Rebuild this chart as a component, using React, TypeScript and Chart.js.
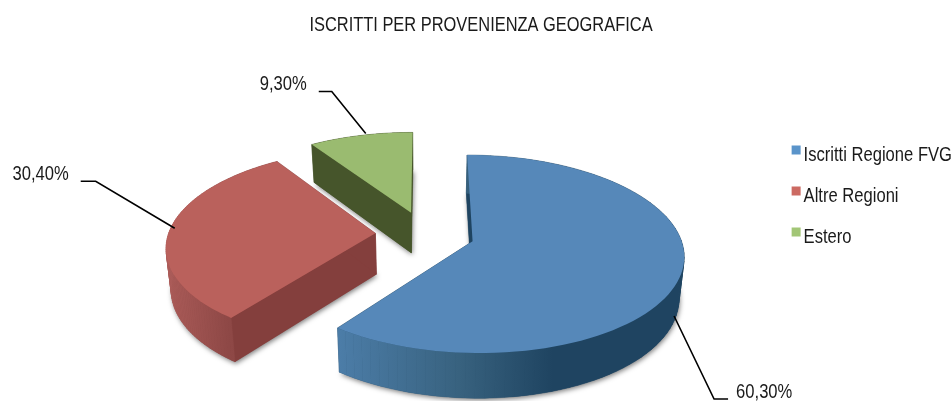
import React, { useEffect, useRef } from "react";
import { Chart, registerables } from "chart.js";

Chart.register(...registerables);

const titleText = "ISCRITTI PER PROVENIENZA GEOGRAFICA";
const categories = ["Iscritti Regione FVG", "Altre Regioni", "Estero"];
const shares = [60.3, 30.4, 9.3];

const topColors = ["#5688b9", "#ba615c", "#9abb70"];
const legendColors = ["#5a94ca", "#cc6a62", "#a2c676"];
const sideColors = ["#1f4461", "#843f3d", "#46552b"];
const wallStops: [number, string][][] = [
  [[0, "#4c7da8"], [0.35, "#38627f"], [0.62, "#1f4461"], [1, "#1f4461"]],
  [[0, "#ac5c59"], [0.3, "#8e4846"], [1, "#843f3d"]],
  [[0, "#46552b"], [1, "#46552b"]],
];

const FONT = '"Liberation Sans", sans-serif';
const TEXT_SQUEEZE = 0.79; // no condensed face is installed, so text is narrowed horizontally

// Projection of the tilted, exploded disc on the canvas
const view = { cx: 425, cy: 234, rx: 207, ry: 95.5, persp: 0.127, depth: 41, floor: 0.98, explode: 0.24 };

// Leader line of each label: rim tweak, elbow relative to the rim, tail length, gap to the text
const leaders = [
  { ax: -2, ay: 0, ex: 40, ey: 83, tail: 14, gap: 8, low: true },
  { ax: 5, ay: -2, ex: -79, ey: -47, tail: -15, gap: -12, low: false },
  { ax: 5, ay: -2, ex: -34, ey: -42, tail: -13, gap: -12, low: false },
];

function project(U: number, V: number, low = false) {
  const d = 1 + view.persp * V;
  let x = view.cx + (view.rx * U) / d;
  let y = view.cy - (view.ry * V) / d;
  if (low) {
    x = view.cx + (x - view.cx) * view.floor;
    y = view.cy + (y - view.cy) * view.floor + view.depth / d;
  }
  return { x, y };
}

function narrowText(ctx: any) {
  const fill = ctx.fillText.bind(ctx);
  const measure = ctx.measureText.bind(ctx);
  ctx.fillText = (t: string, x: number, y: number) => {
    ctx.save();
    ctx.translate(x, y);
    ctx.scale(TEXT_SQUEEZE, 1);
    fill(t, 0, 0);
    ctx.restore();
  };
  ctx.measureText = (t: string) => {
    const m = measure(t);
    return {
      width: m.width * TEXT_SQUEEZE,
      actualBoundingBoxAscent: m.actualBoundingBoxAscent,
      actualBoundingBoxDescent: m.actualBoundingBoxDescent,
      actualBoundingBoxLeft: m.actualBoundingBoxLeft * TEXT_SQUEEZE,
      actualBoundingBoxRight: m.actualBoundingBoxRight * TEXT_SQUEEZE,
    };
  };
}

const pie3d = {
  id: "pie3d",
  beforeDatasetDraw(chart: any) {
    const ctx: CanvasRenderingContext2D = chart.ctx;
    const arcs = chart.getDatasetMeta(0).data;
    const slices = arcs.map((a: any) => {
      const t0 = a.startAngle + Math.PI / 2;
      const t1 = a.endAngle + Math.PI / 2;
      const mid = (t0 + t1) / 2;
      const U0 = Math.sin(mid) * view.explode;
      const V0 = Math.cos(mid) * view.explode;
      const n = 90;
      const rim: [number, number][] = [];
      for (let i = 0; i <= n; i++) {
        const t = t0 + ((t1 - t0) * i) / n;
        rim.push([U0 + Math.sin(t), V0 + Math.cos(t)]);
      }
      return { mid, U0, V0, rim };
    });
    const order = [2, 1, 0];
    const path = (pts: { x: number; y: number }[]) => {
      ctx.beginPath();
      pts.forEach((p, i) => (i ? ctx.lineTo(p.x, p.y) : ctx.moveTo(p.x, p.y)));
      ctx.closePath();
    };
    order.forEach((i) => {
      const s = slices[i];
      const topPts = [project(s.U0, s.V0), ...s.rim.map((r: number[]) => project(r[0], r[1]))];
      const lowPts = [project(s.U0, s.V0, true), ...s.rim.map((r: number[]) => project(r[0], r[1], true))];
      ctx.save();
      ctx.shadowColor = "rgba(0,0,0,0.5)";
      ctx.shadowBlur = 5;
      ctx.shadowOffsetX = 1;
      ctx.shadowOffsetY = 2;
      ctx.fillStyle = sideColors[i];
      path(lowPts);
      ctx.fill();
      ctx.restore();

      ctx.fillStyle = sideColors[i];
      ctx.strokeStyle = sideColors[i];
      ctx.lineWidth = 0.5;
      const last = topPts.length - 1;
      [1, last].forEach((k) => {
        path([topPts[0], topPts[k], lowPts[k], lowPts[0]]);
        ctx.fill();
        ctx.stroke();
      });
      const xs = topPts.map((p) => p.x);
      const g = ctx.createLinearGradient(Math.min(...xs), 0, Math.max(...xs), 0);
      wallStops[i].forEach(([o, c]) => g.addColorStop(o, c));
      ctx.fillStyle = g;
      ctx.strokeStyle = g;
      for (let k = 1; k < last; k++) {
        path([topPts[k], topPts[k + 1], lowPts[k + 1], lowPts[k]]);
        ctx.fill();
        ctx.stroke();
      }
      ctx.fillStyle = topColors[i];
      path(topPts);
      ctx.fill();
    });

    // Value labels with leader lines
    ctx.save();
    ctx.font = `21px ${FONT}`;
    ctx.fillStyle = "#1a1a1a";
    ctx.strokeStyle = "#000000";
    ctx.lineWidth = 1.6;
    ctx.textBaseline = "middle";
    slices.forEach((s: any, i: number) => {
      const l = leaders[i];
      const p = project(s.U0 + Math.sin(s.mid), s.V0 + Math.cos(s.mid), l.low);
      const ax = p.x + l.ax;
      const ay = p.y + l.ay;
      const ex = ax + l.ex;
      const ey = ay + l.ey;
      const tx = ex + l.tail;
      ctx.beginPath();
      ctx.moveTo(ax, ay);
      ctx.lineTo(ex, ey);
      ctx.lineTo(tx, ey);
      ctx.stroke();
      ctx.textAlign = l.tail > 0 ? "left" : "right";
      const label = shares[i].toFixed(2).replace(".", ",") + "%";
      ctx.fillText(label, tx + l.gap, ey - 7);
    });
    ctx.restore();
    return false;
  },
};

function legendSwatch(color: string) {
  // Square set high and close to its text, as in the reference legend
  const c = document.createElement("canvas");
  c.width = 24;
  c.height = 24;
  const x = c.getContext("2d")!;
  x.fillStyle = color;
  x.fillRect(11, 2, 9, 9);
  return c;
}

export default function App() {
  const ref = useRef<HTMLCanvasElement>(null);
  useEffect(() => {
    narrowText(ref.current!.getContext("2d"));
    const chart = new Chart(ref.current!, {
      type: "pie",
      data: {
        labels: categories,
        datasets: [{ data: shares, backgroundColor: topColors, borderWidth: 0 }],
      },
      plugins: [pie3d],
      options: {
        responsive: false,
        animation: false,
        layout: { padding: { left: 0, right: -11, top: 0, bottom: 8 } },
        plugins: {
          tooltip: { enabled: false },
          title: {
            display: true,
            text: titleText,
            color: "#1a1a1a",
            font: { family: FONT, size: 20.8, weight: "normal" },
            padding: { top: 13, bottom: 100 },
          },
          legend: {
            position: "right",
            align: "center",
            labels: {
              font: { family: FONT, size: 21 },
              color: "#1a1a1a",
              padding: 20,
              usePointStyle: true,
              pointStyleWidth: 1,
              generateLabels: () =>
                categories.map((text, i) => ({
                  text,
                  fontColor: "#1a1a1a",
                  pointStyle: legendSwatch(legendColors[i]),
                  fillStyle: legendColors[i],
                  strokeStyle: legendColors[i],
                  lineWidth: 0,
                  hidden: false,
                  index: i,
                  datasetIndex: 0,
                })),
            },
          },
        },
      } as any,
    });
    return () => chart.destroy();
  }, []);
  return (
    <canvas
      ref={ref}
      width={951}
      height={401}
      style={{ position: "fixed", left: 0, top: 0, background: "#ffffff" }}
    />
  );
}
